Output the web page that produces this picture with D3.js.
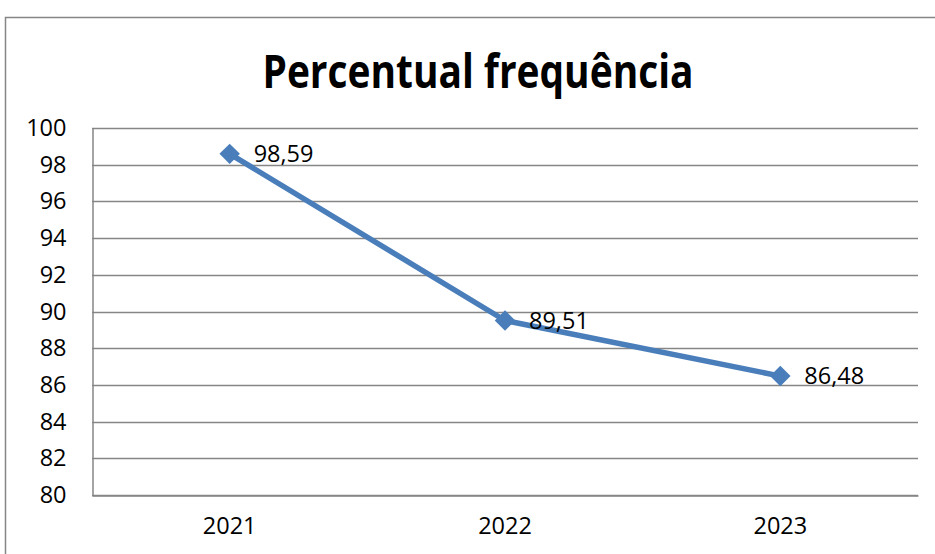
<!DOCTYPE html>
<html>
<head>
<meta charset="utf-8">
<script src="https://cdn.jsdelivr.net/npm/d3@7"></script>
<style>
  html, body { margin: 0; padding: 0; background: #fff; }
  svg { display: block; }
</style>
</head>
<body>
<svg id="chart" width="935" height="554"></svg>
<script>
const title = "Percentual frequência";
const categories = ["2021", "2022", "2023"];
const values = [98.59, 89.51, 86.48];
const valueLabels = ["98,59", "89,51", "86,48"];
const yTicks = [80, 82, 84, 86, 88, 90, 92, 94, 96, 98, 100];

const svg = d3.select("#chart");
const W = 935, H = 554;
const plot = { left: 92, right: 918, top: 128, bottom: 495 };
const gridColor = "#868686";
const lineColor = "#4A7EBB";
const tickFont = "'Open Sans', 'DejaVu Sans', sans-serif";

svg.append("rect").attr("width", W).attr("height", H).attr("fill", "#fff");
// outer chart border (extends beyond the visible area on right/bottom)
svg.append("rect")
  .attr("x", 5.5).attr("y", 17.5)
  .attr("width", 2000).attr("height", 2000)
  .attr("fill", "none").attr("stroke", gridColor).attr("stroke-width", 1.5);

// Title
const t = svg.append("text")
  .attr("x", 478).attr("y", 88)
  .attr("text-anchor", "middle")
  .attr("font-family", "'Liberation Sans Narrow', 'Open Sans', sans-serif")
  .attr("font-weight", "bold")
  .attr("font-size", 47)
  .attr("fill", "#000")
  .text(title);
const tl = t.node().getComputedTextLength();
if (Math.abs(tl - 431) > 4) t.attr("textLength", 431).attr("lengthAdjust", "spacingAndGlyphs");

const x = d3.scaleBand().domain(categories).range([plot.left, plot.right]);
const y = d3.scaleLinear().domain([80, 100]).range([plot.bottom, plot.top]);

// Gridlines
svg.append("g").selectAll("line").data(yTicks).join("line")
  .attr("x1", plot.left).attr("x2", plot.right)
  .attr("y1", d => Math.round(y(d)) + 0.5).attr("y2", d => Math.round(y(d)) + 0.5)
  .attr("stroke", gridColor).attr("stroke-width", 1.5);

// Y axis
const yAxis = svg.append("g")
  .attr("transform", `translate(${plot.left + 0.5},0)`)
  .call(d3.axisLeft(y).tickValues(yTicks).tickSize(0).tickPadding(26));
yAxis.select(".domain").attr("stroke", gridColor).attr("stroke-width", 1.5);
yAxis.selectAll("text")
  .attr("font-family", tickFont).attr("font-size", 23.5).attr("fill", "#000");

// X axis
const xAxis = svg.append("g")
  .attr("transform", `translate(0,${Math.round(y(80)) + 0.5})`)
  .call(d3.axisBottom(x).tickSize(0).tickPadding(22));
xAxis.select(".domain").attr("stroke", gridColor).attr("stroke-width", 1.5);
xAxis.selectAll("text")
  .attr("font-family", tickFont).attr("font-size", 23.5).attr("fill", "#000");

// Line
const cx = (d, i) => x(categories[i]) + x.bandwidth() / 2;
const line = d3.line().x((d, i) => cx(d, i)).y(d => y(d));
svg.append("path").datum(values)
  .attr("d", line)
  .attr("fill", "none")
  .attr("stroke", lineColor)
  .attr("stroke-width", 5.5)
  .attr("stroke-linejoin", "round");

// Diamond markers
const diamond = d3.symbol().type(d3.symbolSquare).size(210);
svg.append("g").selectAll("path").data(values).join("path")
  .attr("d", diamond())
  .attr("transform", (d, i) => `translate(${cx(d, i)},${y(d)}) rotate(45)`)
  .attr("fill", lineColor);

// Data labels
svg.append("g").selectAll("text").data(values).join("text")
  .attr("x", (d, i) => cx(d, i) + 24)
  .attr("y", d => y(d))
  .attr("dy", "0.35em")
  .attr("font-family", tickFont).attr("font-size", 23.5).attr("fill", "#000")
  .text((d, i) => valueLabels[i]);
</script>
</body>
</html>
